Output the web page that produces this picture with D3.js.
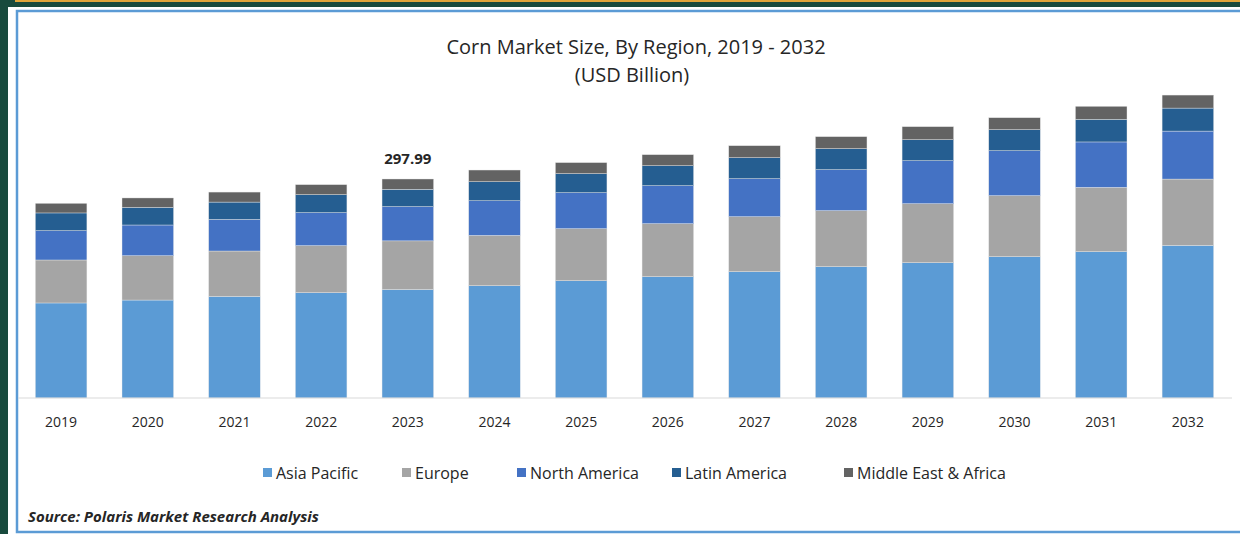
<!DOCTYPE html>
<html>
<head>
<meta charset="utf-8">
<script src="https://d3js.org/d3.v7.min.js"></script>
<style>
  body { margin: 0; padding: 0; overflow: hidden; }
  svg text { font-family: "Open Sans", "Noto Sans", sans-serif; fill: #262626; }
</style>
</head>
<body>
<svg id="chart" width="1240" height="534"></svg>
<script>
  const years = ["2019", "2020", "2021", "2022", "2023", "2024", "2025", "2026", "2027", "2028", "2029", "2030", "2031", "2032"];
  const regions = ["Asia Pacific", "Europe", "North America", "Latin America", "Middle East & Africa"];
  const colors = ["#5b9bd5", "#a5a5a5", "#4472c4", "#255e91", "#636363"];

  // values in USD billion
  const asiaPacific = [129.3, 133.3, 138.2, 143.3, 147.6, 152.8, 159.6, 165.1, 171.9, 178.7, 184.1, 192.3, 199.1, 207.6];
  const europe = [58.5, 60.3, 61.8, 64.0, 66.2, 68.4, 70.8, 72.1, 74.8, 76.2, 80.3, 83.0, 87.5, 90.3];
  const northAmerica = [39.9, 41.8, 43.0, 44.9, 46.6, 47.2, 49.0, 51.7, 51.7, 55.8, 58.5, 61.2, 61.8, 65.3];
  const latinAmerica = [24.1, 24.0, 23.6, 24.5, 23.6, 25.9, 25.9, 27.2, 28.6, 28.6, 28.6, 28.6, 30.8, 31.3];
  const middleEast = [13.1, 12.8, 13.6, 13.6, 14.0, 15.9, 15.0, 15.0, 16.3, 16.3, 17.7, 16.3, 17.7, 17.7];
  const labelYear = "2023";
  const labelText = "297.99";

  const series = [asiaPacific, europe, northAmerica, latinAmerica, middleEast];
  const rows = years.map((y, i) => {
    const r = { year: y };
    regions.forEach((k, j) => r[k] = series[j][i]);
    return r;
  });

  const svg = d3.select("#chart");

  // page frame
  svg.append("rect").attr("width", 1240).attr("height", 534).attr("fill", "#184a3d");
  svg.append("rect").attr("x", 15).attr("y", 0).attr("width", 1225).attr("height", 2).attr("fill", "#e0a43a");
  svg.append("rect").attr("x", 8).attr("y", 7).attr("width", 1232).attr("height", 527).attr("fill", "#fff");
  svg.append("rect").attr("x", 17).attr("y", 11).attr("width", 1240).attr("height", 521)
    .attr("fill", "none").attr("stroke", "#5b9bd5").attr("stroke-width", 2.5);

  const x = d3.scaleBand().domain(years).range([18, 1231]).paddingInner(0.405).paddingOuter(0.2);
  const y = d3.scaleLinear().domain([0, 297.99]).range([398, 179]);

  const stack = d3.stack().keys(regions)(rows);

  svg.append("g")
    .selectAll("g")
    .data(stack)
    .join("g")
    .attr("fill", (d, i) => colors[i])
    .selectAll("rect")
    .data(d => d)
    .join("rect")
    .attr("x", d => x(d.data.year))
    .attr("y", d => y(d[1]))
    .attr("width", x.bandwidth())
    .attr("height", d => y(d[0]) - y(d[1]))
    .attr("stroke", "#e8e8e8")
    .attr("stroke-width", 0.4);

  // axis
  const xAxis = svg.append("g")
    .attr("transform", "translate(0,398)")
    .call(d3.axisBottom(x).tickSize(0).tickPadding(19));
  xAxis.select(".domain").attr("d", "M18,0H1232").attr("stroke", "#d9d9d9").attr("stroke-width", 1.2);
  xAxis.selectAll("text").style("font-size", "14px").style("font-family", "'Open Sans', sans-serif").attr("fill", "#262626");

  // data label
  const last = stack[stack.length - 1].find(d => d.data.year === labelYear);
  svg.append("text")
    .attr("x", x(labelYear) + x.bandwidth() / 2)
    .attr("y", y(last[1]) - 15)
    .attr("text-anchor", "middle")
    .style("font-size", "15px")
    .style("font-weight", "bold")
    .text(labelText);

  // titles
  svg.append("text").attr("x", 636).attr("y", 54).attr("text-anchor", "middle")
    .style("font-size", "20px").text("Corn Market Size, By Region, 2019 - 2032");
  svg.append("text").attr("x", 632).attr("y", 82).attr("text-anchor", "middle")
    .style("font-size", "20px").text("(USD Billion)");

  // legend
  const legendX = [263, 402, 517, 672, 844];
  const legend = svg.append("g");
  regions.forEach((r, i) => {
    legend.append("rect").attr("x", legendX[i]).attr("y", 468).attr("width", 9).attr("height", 9).attr("fill", colors[i]);
    legend.append("text").attr("x", legendX[i] + 13).attr("y", 479)
      .style("font-size", "16px").text(r);
  });

  // source
  svg.append("text").attr("x", 28).attr("y", 522)
    .style("font-size", "15px").style("font-weight", "bold").style("font-style", "italic")
    .text("Source: Polaris Market Research Analysis");
</script>
</body>
</html>
